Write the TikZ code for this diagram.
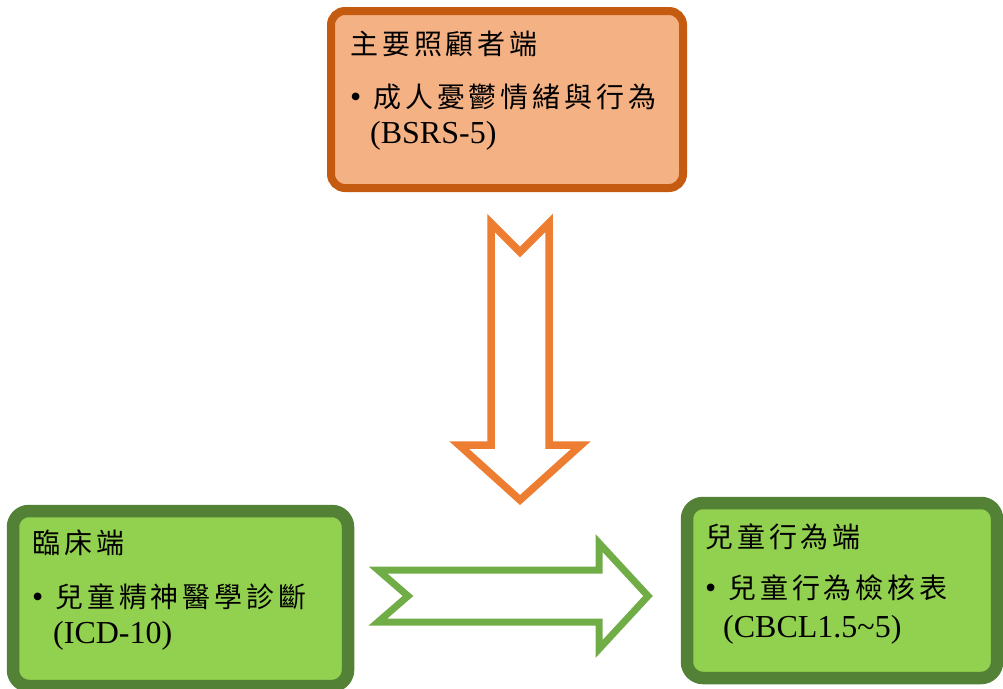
\documentclass[tikz,border=0pt]{standalone}
\usepackage{fontspec}
\setmainfont{Liberation Serif}
\newfontfamily\cjk[LetterSpace=14]{Noto Sans CJK TC}
\definecolor{oFill}{HTML}{F4B183}
\definecolor{oLine}{HTML}{C55A11}
\definecolor{oArrow}{HTML}{ED7D31}
\definecolor{gFill}{HTML}{92D050}
\definecolor{gLine}{HTML}{538135}
\definecolor{gArrow}{HTML}{70AD47}
\tikzset{
  obox/.style={draw=oLine, fill=oFill, line width=8pt, rounded corners=14pt, inner sep=0pt},
  gbox/.style={draw=gLine, fill=gFill, line width=12.5pt, rounded corners=16pt, inner sep=0pt},
  ctext/.style={anchor=base west, inner sep=0pt, font=\cjk\fontsize{28}{28}\selectfont},
  ltext/.style={anchor=base west, inner sep=0pt, font=\fontsize{32}{32}\selectfont},
  blt/.style={anchor=base west, inner sep=0pt, font=\fontsize{32}{32}\selectfont},
  oarrow/.style={draw=oArrow, line width=7.5pt, fill=white},
  garrow/.style={draw=gArrow, line width=7pt, fill=white}
}
\begin{document}
\begin{tikzpicture}[x=1pt, y=-1pt]
\useasboundingbox (0,0) rectangle (1003,688);
% boxes
\node[obox, minimum width=352pt, minimum height=177pt] (care) at (507,99.5) {};
\node[gbox, minimum width=335pt, minimum height=175pt] (clin) at (180.5,598.5) {};
\node[gbox, minimum width=310pt, minimum height=175pt] (child) at (842,590.5) {};
% top box text
\node[ctext] (careT) at (350,54) {主要照顧者端};
\node[blt] (careB) at (350,107) {\textbullet};
\node[ctext] (careC) at (373,107) {成人憂鬱情緒與行為};
\node[ltext] (careL) at (370,143) {(BSRS-5)};
% left box text
\node[ctext] (clinT) at (32,553) {臨床端};
\node[blt] (clinB) at (32,607) {\textbullet};
\node[ctext] (clinC) at (55,607) {兒童精神醫學診斷};
\node[ltext] (clinL) at (53,643) {(ICD-10)};
% right box text
\node[ctext] (childT) at (705,547) {兒童行為端};
\node[blt] (childB) at (705,598) {\textbullet};
\node[ctext] (childC) at (728,598) {兒童行為檢核表};
\node[ltext] (childL) at (723,637) {(CBCL1.5\textasciitilde 5)};
% block arrows
\draw[oarrow] (491,223) -- (520,252) -- (549,223) -- (549,445) -- (581,445)
  -- (520,500) -- (459,445) -- (491,445) -- cycle;
\draw[garrow] (378,570) -- (599,570) -- (599,543) -- (648,596) -- (599,649)
  -- (599,622) -- (378,622) -- (408,596) -- cycle;
\end{tikzpicture}
\end{document}
